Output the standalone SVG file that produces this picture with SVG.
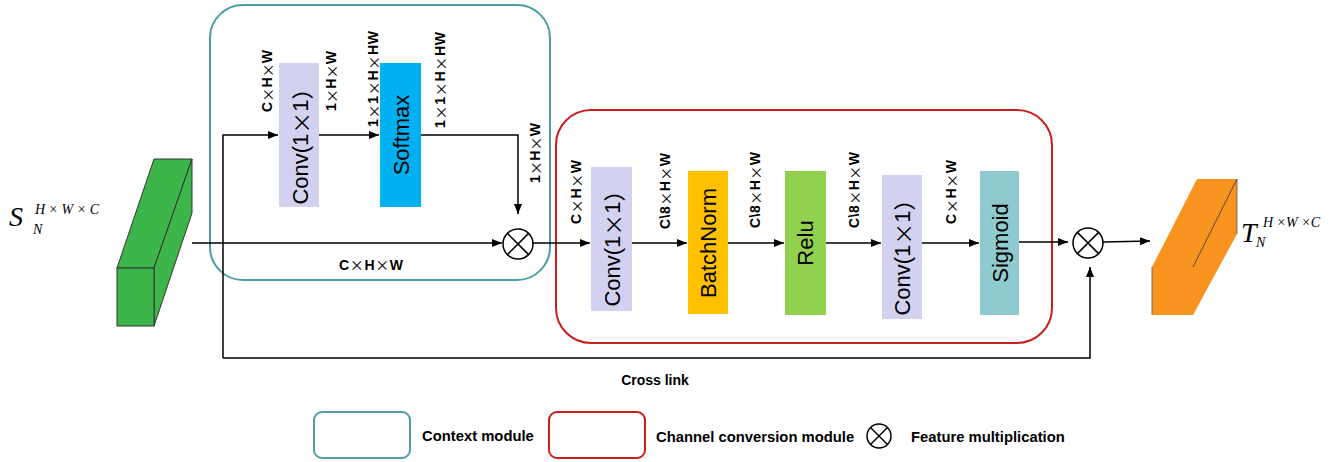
<svg xmlns="http://www.w3.org/2000/svg" width="1339" height="462" viewBox="0 0 1339 462">
<style>
.lbl{font-family:"Liberation Sans",Arial,sans-serif;font-weight:bold;font-size:14px;fill:#000}
.leg{font-size:14.8px}
.x{font-family:"Noto Sans CJK SC",sans-serif;font-weight:normal}
.blk{font-family:"Liberation Sans",Arial,sans-serif;font-size:22px;fill:#000}
.math{font-family:"Liberation Serif","Times New Roman",serif;font-style:italic;fill:#000}
.ln{stroke:#000;stroke-width:1.5;fill:none}
.mod-c{fill:none;stroke:#4E9DA5;stroke-width:2}
.mod-r{fill:none;stroke:#C81E1E;stroke-width:2}
.conv{fill:#D2D2F0}
</style>
<defs>
<marker id="ah" markerWidth="10" markerHeight="8" refX="10" refY="4" orient="auto" markerUnits="userSpaceOnUse">
<path d="M0,0 L10,4 L0,8 Z" fill="#000"/>
</marker>
</defs>
<rect width="1339" height="462" fill="#fff"/>

<!-- modules -->
<g id="context-module"><rect class="mod-c" x="210" y="5" width="340" height="275" rx="33"/></g>
<g id="channel-module"><rect class="mod-r" x="556" y="110" width="496" height="233" rx="35"/></g>

<!-- input tensor -->
<g id="input">
<polygon points="117,268 154,159 192,159 154,268" fill="#3CB54A" stroke="#333" stroke-width="1"/>
<polygon points="154,268 192,159 192,213 154,326" fill="#3CB54A" stroke="#333" stroke-width="1"/>
<rect x="117" y="268" width="37" height="58" fill="#3CB54A" stroke="#333" stroke-width="1"/>
<text class="math" x="9" y="226" font-size="28">S</text>
<text class="math" x="35" y="214" font-size="14">H × W × C</text>
<text class="math" x="33" y="234" font-size="14">N</text>
</g>

<!-- output tensor -->
<g id="output">
<polygon points="1152,267 1197,179 1237,179 1237,234 1193,315 1152,315" fill="#F7931E"/>
<line x1="1237" y1="179" x2="1193" y2="267" stroke="#333" stroke-width="0.8"/>
<line x1="1152" y1="267" x2="1152" y2="315" stroke="#555" stroke-width="0.8"/>
<line x1="1237" y1="179" x2="1237" y2="234" stroke="#555" stroke-width="0.8"/>
<text class="math" x="1241" y="242" font-size="28">T</text>
<text class="math" x="1263" y="227" font-size="14">H ×W ×C</text>
<text class="math" x="1256" y="247" font-size="14">N</text>
</g>

<!-- blocks -->
<g id="conv1"><rect class="conv" x="279" y="63" width="40" height="144"/>
<text class="blk" transform="translate(300,141) rotate(-90)" text-anchor="middle" dominant-baseline="central" font-size="21">Conv(1<tspan class="x">×</tspan>1<tspan class="x">）</tspan></text></g>
<g id="softmax"><rect x="380" y="63" width="41" height="144" fill="#00B0F0"/>
<text class="blk" transform="translate(401,135) rotate(-90)" text-anchor="middle" dominant-baseline="central">Softmax</text></g>
<g id="conv2"><rect class="conv" x="591" y="167" width="41" height="144"/>
<text class="blk" transform="translate(612,243) rotate(-90)" text-anchor="middle" dominant-baseline="central" font-size="21">Conv(1<tspan class="x">×</tspan>1<tspan class="x">）</tspan></text></g>
<g id="batchnorm"><rect x="688" y="171" width="40" height="143" fill="#FFC000"/>
<text class="blk" transform="translate(708,243) rotate(-90)" text-anchor="middle" dominant-baseline="central">BatchNorm</text></g>
<g id="relu"><rect x="785" y="171" width="41" height="144" fill="#92D050"/>
<text class="blk" transform="translate(805,243) rotate(-90)" text-anchor="middle" dominant-baseline="central">Relu</text></g>
<g id="conv3"><rect class="conv" x="882" y="175" width="40" height="144"/>
<text class="blk" transform="translate(902,252) rotate(-90)" text-anchor="middle" dominant-baseline="central" font-size="21">Conv(1<tspan class="x">×</tspan>1<tspan class="x">）</tspan></text></g>
<g id="sigmoid"><rect x="980" y="171" width="39" height="144" fill="#8FCBCE"/>
<text class="blk" transform="translate(1000,243) rotate(-90)" text-anchor="middle" dominant-baseline="central">Sigmoid</text></g>

<!-- multiplication nodes -->
<g id="mul1"><circle cx="518" cy="244" r="15" fill="#fff" stroke="#000" stroke-width="1.5"/>
<path class="ln" d="M507.4,233.4 L528.6,254.6 M528.6,233.4 L507.4,254.6"/></g>
<g id="mul2"><circle cx="1088" cy="243" r="15" fill="#fff" stroke="#000" stroke-width="1.5"/>
<path class="ln" d="M1077.4,232.4 L1098.6,253.6 M1098.6,232.4 L1077.4,253.6"/></g>

<!-- connectors -->
<g id="connectors">
<line class="ln" x1="192" y1="243" x2="502" y2="243" marker-end="url(#ah)"/>
<polyline class="ln" points="223,358 223,135 278,135" marker-end="url(#ah)"/>
<line class="ln" x1="319" y1="135" x2="379" y2="135" marker-end="url(#ah)"/>
<polyline class="ln" points="421,135 518,135 518,214" marker-end="url(#ah)"/>
<line class="ln" x1="533" y1="243" x2="590" y2="243" marker-end="url(#ah)"/>
<line class="ln" x1="632" y1="243" x2="687" y2="243" marker-end="url(#ah)"/>
<line class="ln" x1="728" y1="243" x2="784" y2="243" marker-end="url(#ah)"/>
<line class="ln" x1="826" y1="243" x2="881" y2="243" marker-end="url(#ah)"/>
<line class="ln" x1="922" y1="243" x2="979" y2="243" marker-end="url(#ah)"/>
<line class="ln" x1="1019" y1="242" x2="1068" y2="242" marker-end="url(#ah)"/>
<line class="ln" x1="1103" y1="242" x2="1150" y2="241" marker-end="url(#ah)"/>
<polyline class="ln" points="223,358 1090,358 1090,267" marker-end="url(#ah)"/>

<text class="lbl" transform="translate(267,81) rotate(-90)" text-anchor="middle" dominant-baseline="central" textLength="62" lengthAdjust="spacing">C<tspan class="x">×</tspan>H<tspan class="x">×</tspan>W</text>
<text class="lbl" transform="translate(331,81) rotate(-90)" text-anchor="middle" dominant-baseline="central" textLength="60" lengthAdjust="spacing">1<tspan class="x">×</tspan>H<tspan class="x">×</tspan>W</text>
<text class="lbl" transform="translate(373,79) rotate(-90)" text-anchor="middle" dominant-baseline="central" textLength="96" lengthAdjust="spacing">1<tspan class="x">×</tspan>1<tspan class="x">×</tspan>H<tspan class="x">×</tspan>HW</text>
<text class="lbl" transform="translate(440,80) rotate(-90)" text-anchor="middle" dominant-baseline="central" textLength="96" lengthAdjust="spacing">1<tspan class="x">×</tspan>1<tspan class="x">×</tspan>H<tspan class="x">×</tspan>HW</text>
<text class="lbl" transform="translate(535,153) rotate(-90)" text-anchor="middle" dominant-baseline="central" textLength="60" lengthAdjust="spacing">1<tspan class="x">×</tspan>H<tspan class="x">×</tspan>W</text>
<text class="lbl" x="371" y="270" text-anchor="middle" textLength="64" lengthAdjust="spacing">C<tspan class="x">×</tspan>H<tspan class="x">×</tspan>W</text>
<text class="lbl" transform="translate(576,192) rotate(-90)" text-anchor="middle" dominant-baseline="central" textLength="64" lengthAdjust="spacing">C<tspan class="x">×</tspan>H<tspan class="x">×</tspan>W</text>
<text class="lbl" transform="translate(665,191) rotate(-90)" text-anchor="middle" dominant-baseline="central" textLength="76" lengthAdjust="spacing">C\8<tspan class="x">×</tspan>H<tspan class="x">×</tspan>W</text>
<text class="lbl" transform="translate(755,190) rotate(-90)" text-anchor="middle" dominant-baseline="central" textLength="76" lengthAdjust="spacing">C\8<tspan class="x">×</tspan>H<tspan class="x">×</tspan>W</text>
<text class="lbl" transform="translate(854,190) rotate(-90)" text-anchor="middle" dominant-baseline="central" textLength="76" lengthAdjust="spacing">C\8<tspan class="x">×</tspan>H<tspan class="x">×</tspan>W</text>
<text class="lbl" transform="translate(951,192) rotate(-90)" text-anchor="middle" dominant-baseline="central" textLength="64" lengthAdjust="spacing">C<tspan class="x">×</tspan>H<tspan class="x">×</tspan>W</text>
<text class="lbl" x="655" y="385" text-anchor="middle">Cross link</text>
</g>

<!-- legend -->
<g id="legend">
<rect class="mod-c" x="314" y="412" width="96" height="46" rx="8"/>
<text class="lbl leg" x="422" y="441">Context module</text>
<rect class="mod-r" x="549" y="412" width="96" height="46" rx="8"/>
<text class="lbl leg" x="656" y="442">Channel conversion module</text>
<circle cx="879" cy="436" r="12" fill="none" stroke="#000" stroke-width="1.5"/>
<path class="ln" d="M870.5,427.5 L887.5,444.5 M887.5,427.5 L870.5,444.5"/>
<text class="lbl leg" x="911" y="442">Feature multiplication</text>
</g>
</svg>
